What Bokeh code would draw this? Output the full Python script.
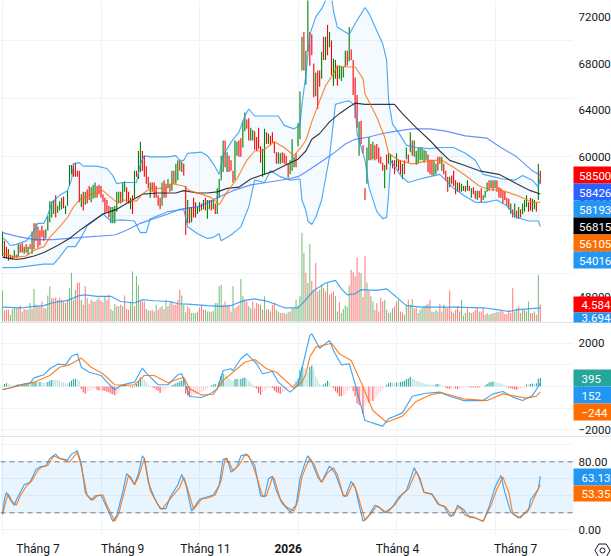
from bokeh.plotting import figure
from bokeh.layouts import column
from bokeh.models import Range1d, LinearAxis, FixedTicker, Span, Div, BoxAnnotation, NumeralTickFormatter
from bokeh.core.properties import value
from bokeh.embed import file_html
from bokeh.resources import INLINE

# ---- data (prices in hundreds) ----
high = [536,528,523,521,516,515,520,516,525,525, 526,523,525,523,525,536,543,543,540,537,
541,537,538,549,562,562,563,567,558,562, 565,566,558,571,593,593,594,595,588,588,
568,570,570,572,575,574,576,578,575,576, 575,568,565,563,558,557,557,558,570,570,
570,578,579,574,570,565,567,588,588,605, 613,605,601,592,583,578,578,578,575,567,
565,578,580,577,581,577,588,588,594,597, 597,596,594,575,563,557,557,565,561,557,
561,560,563,565,563,563,563,563,560,573, 581,601,614,614,604,601,597,588,614,613,
614,616,631,638,632,633,625,623,622,617, 625,609,607,624,621,620,618,621,613,604,
604,603,604,603,601,594,597,615,600,603, 629,656,703,707,691,736,707,705,680,672,
674,674,690,703,703,713,707,700,684,683, 678,678,677,677,691,691,711,692,683,668,
653,630,631,610,573,608,617,611,613,610, 611,608,600,595,593,602,603,602,597,597,
603,598,597,594,597,608,602,621,614,614, 605,608,608,608,606,605,602,597,597,597,
594,600,600,600,594,588,583,583,584,588, 580,578,578,577,575,575,580,575,573,574,
571,571,571,573,567,571,578,580,580,580, 580,580,574,573,571,570,565,564,560,555,
560,554,557,555,560,563,567,561,565,564, 563,561,594,588]
low = [515,513,513,511,512,512,513,513,514,518, 518,517,518,516,521,517,521,528,522,524,
531,528,530,537,544,548,551,548,552,554, 555,556,551,558,575,585,583,583,583,561,
557,554,559,560,563,561,564,565,565,568, 565,561,551,553,548,543,543,543,553,560,
560,561,570,561,560,555,551,565,583,581, 587,588,583,577,573,565,570,565,565,558,
555,558,565,565,573,570,571,577,577,580, 588,587,584,533,543,543,544,548,548,551,
553,554,555,554,547,555,554,555,551,551, 565,580,587,591,587,587,588,578,580,601,
600,600,608,622,624,614,614,614,606,605, 607,595,583,585,611,611,610,612,603,594,
594,594,595,594,593,582,585,588,591,591, 609,615,674,674,662,690,678,687,651,652,
641,660,667,683,683,687,694,670,661,667, 661,667,665,668,677,678,682,683,653,633,
625,601,611,603,563,577,597,597,598,597, 598,595,594,588,573,589,594,593,590,585,
591,588,585,581,585,598,595,604,601,600, 593,594,597,597,595,597,587,585,584,584,
585,588,594,588,585,580,570,574,577,575, 568,570,570,570,571,570,571,571,565,568,
564,563,565,561,563,565,570,571,573,571, 573,570,565,565,560,563,558,555,551,548,
548,547,547,548,551,553,557,553,554,553, 555,553,563,577]
bar_dir = ("GRRGRRGRGR" "RGRGRGRGRR" "RRGGGGGRGG" "GRGGGGRRRR" "GRGRRGGGRR" "RRRRRGGGGG" "RGGRRGRGRG"
           "GRRRRGRRRR" "RGRRGRGRGG" "RGRRGRGRRG" "GRGRGGRGRG" "GGGRGRRRGG" "RRGGRRGGRR" "RRGGRGRRRR"
           "GGRRRRGGGR" "GGGRGGRRRG" "RRGRGRGRGG" "RGGGGRGRRR" "RGRRRGGRGR" "RRRRGRGGRR" "GRRGRGRGRG"
           "GGGGGGRRRG" "GRRGRRRGRR" "RGRGGRGRGR" "RGRRGGGRGR" "GRRRRRRRGR" "GRGRGGGRRG" "GRGR")

volume = [8.4,3.0,3.2,3.2,1.8,3.4,3.6,3.6,3.6,4.3, 2.7,3.4,3.2,3.2,5.0,3.4,8.8,4.5,4.1,4.1,
5.4,3.6,3.6,7.0,9.5,6.3,6.3,6.5,5.9,6.5, 5.9,5.4,5.0,5.9,9.0,13.2,5.9,8.6,10.5,10.5,
5.9,4.5,9.5,6.3,4.7,5.9,5.4,5.4,5.9,6.5, 5.6,5.2,6.8,5.9,7.2,3.4,2.9,4.7,4.1,4.1,
4.5,4.1,7.0,3.4,3.2,5.4,13.5,4.1,12.3,9.7, 5.6,5.4,5.4,3.4,3.0,2.9,3.2,2.7,4.5,3.2,
3.8,4.1,3.4,5.9,4.1,5.2,5.4,4.5,4.5,5.9, 8.6,7.0,4.5,2.5,4.1,3.6,2.3,2.3,2.3,2.7,
3.8,4.5,3.2,3.2,2.7,2.7,2.5,2.9,5.0,5.0, 9.5,9.9,4.5,5.4,4.1,4.5,2.7,9.5,3.6,4.1,
4.5,11.5,6.8,5.9,5.4,4.1,3.6,5.4,3.6,5.0, 4.7,4.5,3.2,6.8,3.2,3.4,2.7,4.5,5.0,3.2,
2.7,2.3,2.3,2.3,2.0,2.5,2.7,3.6,3.6,5.9, 4.3,6.8,24.0,18.6,13.2,
10.4,20.9,11.0,8.6,15.8,8.1,8.6,9.9,9.0,8.1, 10.4,7.2,7.7,8.1,6.8,2.7,5.2,2.3,3.4,4.3,
3.9,9.7,14.0,13.3,12.2,17.3,13.3,13.1,6.6,17.6, 10.5,8.3,6.8,5.4,3.2,5.0,2.7,6.5,5.4,5.9,
3.2,2.3,2.5,3.6,4.1,5.4,5.9,2.7,2.5,1.8, 4.5,5.9,4.5,6.1,3.6,3.8,2.3,3.2,3.6,4.1,
4.5,4.7,5.9,2.7,2.5,3.2,2.7,4.7,2.7,4.5, 3.8,3.6,8.4,2.7,2.3,3.2,4.1,2.7,5.9,1.6,
2.3,3.6,2.5,2.3,2.5,3.2,3.6,2.7,2.7,3.6, 1.8,2.3,1.8,2.0,2.3,2.3,2.7,2.5,3.2,2.7,
2.0,2.0,3.2,2.3,9.0,2.7,3.6,4.1,2.3,3.2, 3.2,2.7,5.4,2.3,2.3,2.7,1.8,12.6,4.584]
vol_dir = ("GRRRGGGGRR" "GRRGGRGRGR" "RGRGGRRRGR" "GRGRGGRGRR" "GRRGRRGRGR" "RRGRRGGGRG" "RGRRRGGRGG" "RRRGGRRGGR"
           "RGRGRGRRRR" "RGGGRRGGGG" "RRRGGGRGGG" "GGRRGRRGRR" "RGGRRGGRRR" "RGRGRGRRRG" "GRRGRGRGGG" "GGGGR"
           "GGRGRRGGRR" "GRRRGGRGGG" "GGRRRRRGRR" "GRGGRRRRRG" "RGGGRRGRRG" "GRGGRRGGGG" "RGRGRGGRRG" "RRRRGRRRGG"
           "GRGGRRRGRR" "GRGGGRGRRR" "RRRRRGGRGR" "GGGRRGRGR")

vol_ma_i = [0,10,16,21,25,33,39,42,48,55,60,67,71,77,85,89,94,104,111,116,123,128,134,138,143,150,154,158,164,169,172,175,179,182,190,195,200,205,213,222,230,244,251,257,262,273]
vol_ma_v = [3.9,3.7,4.1,4.3,5.0,5.7,7.0,7.2,6.8,6.8,5.4,5.0,5.9,5.6,5.4,4.8,4.7,4.3,4.1,4.3,5.7,6.1,5.5,4.8,3.7,3.7,5.9,8.4,10.4,11.1,8.8,7.2,7.5,8.6,8.4,8.8,6.6,4.3,3.9,3.9,3.9,3.7,3.2,2.7,3.2,3.694]

bb_up_i = [0,2,4,7,12,15,18,21,23,25,29,33,35,36,39,41,48,53,56,58,61,64,68,70,72,75,84,88,90,92,94,101,104,107,110,112,114,117,120,123,125,128,133,140,143,148,151,152,154,156,159,162,165,167,168,170,174,176,180,184,186,190,193,195,196,198,201,205,210,217,222,229,235,240,244,249,254,260,264,269,272,273]
bb_up_v = [531,528,524,525,528,534,543,543,550,561,567,571,580,594,595,592,592,590,584,577,578,578,578,594,601,600,600,601,597,597,603,604,601,594,585,601,607,615,621,635,641,635,635,635,627,624,627,645,670,705,720,727,738,738,725,711,707,705,717,728,723,708,697,683,648,628,621,610,608,607,608,608,603,597,585,583,581,580,584,580,574,581.93]
bb_lo_i = [0,7,16,21,26,29,33,37,40,43,51,55,60,67,70,73,75,84,92,94,99,104,107,110,111,116,121,125,128,133,136,141,146,151,152,154,155,157,159,162,166,169,173,176,179,180,184,186,190,193,195,196,197,202,206,212,217,222,229,234,240,245,251,256,261,267,272,273]
bb_lo_v = [505,505,507,508,508,514,523,523,531,541,551,545,546,545,535,535,547,553,555,540,534,530,531,534,528,533,540,557,580,578,588,583,580,581,563,554,545,542,548,563,600,645,647,648,644,620,597,574,553,547,548,568,597,584,578,581,583,585,573,567,561,561,563,558,548,545,545,540.16]
ma_o_i = [0,7,12,16,21,24,29,33,36,39,45,51,53,58,62,68,71,75,83,86,92,95,101,106,110,114,119,124,128,132,138,143,148,151,154,157,161,164,168,170,174,179,183,184,190,194,196,201,208,217,223,229,235,242,247,254,261,269,273]
ma_o_v = [517,514,515,520,523,531,540,548,557,563,568,571,568,561,563,562,568,573,573,577,575,571,568,565,559,570,581,597,605,605,613,608,601,607,614,630,648,661,671,678,677,677,667,654,634,617,603,597,594,597,597,591,584,575,572,571,567,561,561.05]
ma_k_i = [0,7,11,16,21,28,34,40,45,51,58,64,71,79,88,92,99,104,109,114,120,126,131,138,145,150,154,157,161,166,171,176,179,184,191,199,203,210,217,222,227,234,242,252,261,268,273]
ma_k_v = [514,512,513,515,518,524,530,538,544,551,555,561,568,569,569,571,569,569,570,573,574,581,584,588,594,598,605,615,620,630,637,643,646,645,645,645,637,625,614,605,597,593,588,585,577,571,568.15]
ma_b_i = [0,7,16,26,40,57,63,70,75,84,90,101,109,117,126,134,145,150,154,161,168,174,179,186,193,200,208,217,225,235,246,252,261,269,273]
ma_b_v = [535,532,529,529,531,533,537,543,546,551,555,558,565,571,576,578,581,583,587,595,603,611,615,617,620,622,624,624,622,618,616,609,600,588,584.26]

hist = [45,120,150,105,90,60,45,75,105,90, 105,135,150,165,150,180,195,210,195,210,
195,180,180,210,270,300,300,300,300,255, 210,180,165,135,180,270,330,360,330,270,
-120,-270,-330,-240,-210,-165,-120,-90,-150,-180, -150,-180,-210,-240,-270,-330,-360,-405,-330,-270,
30,60,105,90,60,-30,-60,45,120,270, 420,390,300,210,90,30,-45,-75,-150,-210,
-300,-225,-150,-120,-75,-30,60,90,150,180, 240,270,300,-330,-420,-480,-450,-390,-375,-330,
-300,-270,-210,-150,-90,-30,45,90,120,105, 210,480,600,570,480,390,300,270,330,360,
330,360,390,420,360,270,180,90,-45,-90, -300,-390,-270,-180,-120,-75,-45,-75,-180,-270,
-300,-330,-300,-240,-180,-120,-60,-30,90,225, 375,750,900,870,825,
675,900,975,825,450,300,120,45,90,150,270,210,45,
-75,-225,-300,-450,-450,-420,-330,-210,-120,-75,
-225,-450,-780,-870,-675,-1275,-900,-750,-750,-675,
-675,-570,-450,-330,-225,-120,-45,
75,150,180,180,150,180,180,210,225,270,
330,375,450,375,330,270,240,210,180,150,
120,105,90,90,75,105,120,120,45,15,
-60,-90,-105,-90,-75,-90,-105,-90,-75,-60,
-45,-30,-30,-45,-45,-45,-45,-45,-30,-15,
60,120,180,210,225,210,180,150,135,105,
60,-30,-60,-90,-105,-135,-150,-120,-90,-60,
-30,90,90,120,135,120,150,360,395]
macd_i = [0,4,9,14,16,21,24,28,32,35,38,40,44,50,53,57,60,63,67,71,73,79,84,89,91,93,95,101,106,109,112,116,117,121,124,129,132,137,140,146,150,152,154,156,157,161,166,168,172,176,179,184,188,193,196,203,208,215,222,227,234,244,249,254,259,264,269,273]
macd_v = [-140,-60,80,170,400,540,820,1030,1000,1400,1510,890,660,510,200,-150,50,120,200,850,620,80,80,540,590,50,-460,-510,-310,-110,740,820,740,1280,1510,1050,590,690,200,-260,50,820,1590,2360,2430,1770,2130,1660,1000,1050,120,-1570,-1690,-1830,-1490,-1220,-450,-310,-260,-450,-650,-650,-340,-230,-490,-650,-420,152]
signal_i = [0,7,16,24,29,34,40,45,51,57,62,67,72,77,84,92,95,101,107,112,117,123,128,134,139,148,152,154,156,159,167,171,177,182,188,195,203,210,217,223,234,246,254,266,271,273]
signal_v = [-150,0,200,510,890,1000,1310,890,590,80,50,80,510,510,170,430,-110,-390,-370,280,660,1120,1250,820,660,-80,200,590,1360,1820,2000,1510,1200,200,-1110,-1650,-1370,-690,-390,-290,-570,-650,-340,-540,-450,-244]

k_i = [0,1,2,4,6,7,9,11,14,17,19,22,24,27,29,33,35,38,40,42,45,47,50,52,56,58,61,63,65,67,69,71,72,74,77,80,83,85,89,91,93,96,100,103,107,110,112,114,116,119,121,124,128,131,133,135,137,139,142,146,149,151,154,155,157,160,162,164,166,169,173,174,177,179,183,186,189,191,194,198,201,205,209,211,214,218,221,224,227,229,231,234,237,240,244,247,250,253,255,258,262,267,268,272,273]
k_v = [19,36,44,35,29,35,44,53,56,71,74,75,84,89,84,82,89,93,78,44,35,40,41,31,10,17,44,66,62,53,66,87,84,56,38,25,25,38,53,65,54,22,36,38,41,52,83,84,68,74,87,89,76,40,39,60,63,46,31,21,29,60,82,87,80,62,56,66,75,66,41,39,57,50,10,17,29,27,20,27,38,46,73,64,44,42,30,28,16,17,29,24,15,14,10,27,50,64,44,21,14,23,35,48,63.13]
d_i = [0,2,3,5,7,9,12,15,18,20,23,26,29,34,38,40,43,46,48,51,53,57,59,62,64,67,69,72,73,75,79,81,85,90,92,94,97,101,105,108,111,113,115,117,120,123,125,128,132,134,137,138,141,144,148,150,152,154,156,158,161,162,165,168,170,173,175,178,180,184,187,190,192,195,199,203,206,210,212,214,218,222,225,228,230,232,235,239,244,248,251,254,257,259,263,268,270,273]
d_v = [18,36,42,33,29,40,51,58,70,74,76,87,84,80,91,74,40,35,40,41,29,10,19,46,64,53,62,84,72,46,29,24,36,50,62,48,24,36,38,41,58,84,80,69,76,88,87,70,40,40,62,60,36,27,22,35,62,74,84,78,60,56,67,73,65,40,40,55,44,11,19,28,25,20,29,42,48,69,60,44,42,29,27,16,23,27,17,15,10,29,48,62,44,19,14,27,38,53.35]

x_ticks = [18,61,103,145,200.5,260.5]
x_tick_labels = ["Tháng 7","Tháng 9","Tháng 11","","Tháng 4","Tháng 7"]
year_label = "2026"
price_ticks = [48000,52000,56000,60000,64000,68000,72000]
macd_ticks = [-2000,0,2000]
stoch_ticks = [0,40,80]
tag_text = ["58500","58426","58193","56815","56105","54016","4.584","3.694","395","152","−244","63.13","53.35"]

n = len(high)
idx = list(range(n))
px_per = 1.97
xr = Range1d(-2/px_per, 571/px_per)
FONT = "Roboto"
FS = "12px"
FS_Y = "11.5px"
TXT = "#131722"
GRID = "#f0f3fa"
GREEN, RED = "#008000", "#ff0000"
LW = 1.15

def base(fh, yr, ticks, bottom=False):
    p = figure(width=None, height=None, frame_width=573, frame_height=fh, x_range=xr, y_range=yr, toolbar_location=None,
               output_backend="svg", min_border=0, x_axis_location=None, y_axis_location=None,
               background_fill_color="white", border_fill_color="white", outline_line_color=None)
    ax = LinearAxis(ticker=FixedTicker(ticks=ticks), axis_line_color=None, major_tick_line_color=None,
                    minor_tick_line_color=None, major_label_standoff=5, major_tick_out=0, major_tick_in=0,
                    minor_tick_out=0, minor_tick_in=0,
                    major_label_text_font=FONT, major_label_text_font_size=FS_Y, major_label_text_color=TXT)
    p.add_layout(ax, "right")
    if bottom:
        bx = LinearAxis(ticker=FixedTicker(ticks=x_ticks), axis_line_color=None, major_tick_line_color=None,
                        minor_tick_line_color=None, major_label_standoff=7, major_tick_out=0, major_tick_in=0,
                        minor_tick_out=0, minor_tick_in=0,
                        major_label_overrides=dict(zip(x_ticks, x_tick_labels)),
                        major_label_text_font=FONT, major_label_text_font_size=FS, major_label_text_color=TXT)
    else:
        bx = LinearAxis(ticker=FixedTicker(ticks=x_ticks), visible=False)
    p.add_layout(bx, "below")
    p.grid.grid_line_color = GRID
    p.grid.grid_line_width = 1
    return p, ax

# --- price pane ---
price, ax0 = base(322, Range1d(45800, 73400), price_ticks)
price.extra_y_ranges = {"vol": Range1d(-0.27, 86.7)}
price.vbar(idx, 0.55, [0]*n, volume, y_range_name="vol", line_color=None,
           fill_color=[("#80bf80" if c == "G" else "#ff8080") for c in vol_dir])
price.line(vol_ma_i, vol_ma_v, y_range_name="vol", line_color="#2196f3", line_width=LW, line_alpha=0.85)
price.patch(bb_up_i + bb_lo_i[::-1], [v*100 for v in bb_up_v] + [v*100 for v in bb_lo_v[::-1]],
            fill_color="#2196f3", fill_alpha=0.05, line_color=None)
price.segment(idx, [v*100 for v in low], idx, [v*100 for v in high], line_width=1.1,
              line_color=[GREEN if c == "G" else RED for c in bar_dir])
price.line(ma_b_i, [v*100 for v in ma_b_v], line_color="#2962ff", line_width=LW, line_alpha=0.7)
price.line(bb_up_i, [v*100 for v in bb_up_v], line_color="#2196f3", line_width=LW, line_alpha=0.8)
price.line(bb_lo_i, [v*100 for v in bb_lo_v], line_color="#2196f3", line_width=LW, line_alpha=0.8)
price.line(ma_k_i, [v*100 for v in ma_k_v], line_color="#131722", line_width=LW, line_alpha=0.85)
price.line(ma_o_i, [v*100 for v in ma_o_v], line_color="#ff6d00", line_width=LW, line_alpha=0.8)

# --- MACD pane ---
macd, ax1 = base(113, Range1d(-2310, 2910), macd_ticks)
hcol = []
for i, h in enumerate(hist):
    prev = hist[i-1] if i else h
    if h >= 0:
        hcol.append("#26a69a" if h > prev else "#b2dfdb")
    else:
        hcol.append("#ffcdd2" if h > prev else "#ff5252")
macd.vbar(list(range(len(hist))), 0.55, [0]*len(hist), hist, fill_color=hcol, line_color=None)
macd.line(macd_i, macd_v, line_color="#2196f3", line_width=LW, line_alpha=0.85)
macd.line(signal_i, signal_v, line_color="#ff6d00", line_width=LW, line_alpha=0.85)

# --- Stochastic pane ---
stoch, ax2 = base(97, Range1d(-5.5, 108.6), stoch_ticks, bottom=True)
ax2.formatter = NumeralTickFormatter(format="0.00")
stoch.add_layout(BoxAnnotation(bottom=20, top=80, fill_color="#2196f3", fill_alpha=0.1, line_color=None, level="underlay"))
for lv in (20, 80):
    stoch.add_layout(Span(location=lv, dimension="width", line_color="#787b86", line_dash="5 4", line_width=1))
stoch.line(k_i, k_v, line_color="#2196f3", line_width=LW, line_alpha=0.85)
stoch.line(d_i, d_v, line_color="#ff6d00", line_width=LW, line_alpha=0.85)

def sep():
    return Div(width=611, height=1, styles={"background": "#e0e3eb"}, margin=(0,0,0,0))

page = column(price, sep(), macd, sep(), stoch, spacing=0,
              styles={"position": "absolute", "left": "0px", "top": "0px"})

# --- last-value tags, year label and settings icon on a transparent page-sized layer ---
tag_top = [166,183,200,217,234,251,296,312,369,386,403,468,485]
tag_bot = [183,200,217,234,251,268,312,322,386,403,420,485,501]
tag_col = ["#ff0000","#2962ff","#2196f3","#000000","#ff6d00","#2196f3","#ff0000","#2196f3",
           "#26a69a","#2196f3","#ff6d00","#2196f3","#ff6d00"]
tag_x = [578.5]*6 + [581]*7
ov = figure(width=611, height=556, x_range=Range1d(0,611), y_range=Range1d(556,0), toolbar_location=None,
            output_backend="svg", min_border=0, x_axis_location=None, y_axis_location=None,
            background_fill_color=None, border_fill_color=None, outline_line_color=None,
            styles={"position": "absolute", "left": "0px", "top": "0px"})
ov.grid.visible = False
ov.quad(left=[573]*len(tag_text), right=[611]*len(tag_text), top=tag_top, bottom=tag_bot, fill_color=tag_col, line_color=None)
ov.text(x=tag_x, y=[(a+b)/2+0.5 for a, b in zip(tag_top, tag_bot)], text=tag_text, text_color="white",
        text_font=value(FONT), text_font_size=value(FS_Y), text_baseline="middle", text_align="left")
ov.text(x=[2+px_per*x_ticks[3]], y=[548], text=[year_label], text_color=TXT, text_font=value(FONT),
        text_font_size=value(FS), text_font_style="bold", text_baseline="middle", text_align="center")
ov.scatter(x=[602], y=[550], marker="hex", size=15, fill_color=None, line_color=TXT, line_width=1)
ov.scatter(x=[602], y=[550], marker="circle", size=5, fill_color=None, line_color=TXT, line_width=1)

open("out.html", "w").write(file_html([page, ov], INLINE))
